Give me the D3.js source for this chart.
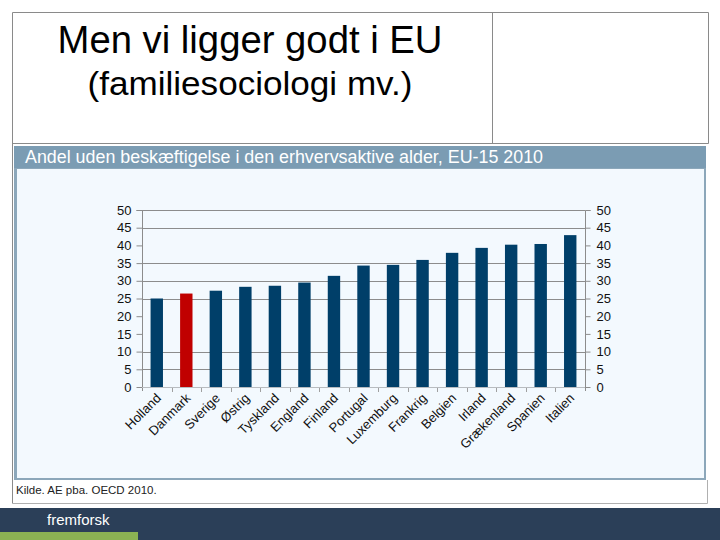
<!DOCTYPE html>
<html>
<head>
<meta charset="utf-8">
<script src="https://cdn.jsdelivr.net/npm/d3@7"></script>
<style>
html,body{margin:0;padding:0;background:#fff;}
svg{display:block;}
</style>
</head>
<body>
<svg id="c" width="720" height="540"></svg>
<script>
const categories = ["Holland","Danmark","Sverige","Østrig","Tyskland","England","Finland","Portugal","Luxemburg","Frankrig","Belgien","Irland","Grækenland","Spanien","Italien"];
const values = [25.0, 26.4, 27.2, 28.3, 28.6, 29.5, 31.4, 34.3, 34.5, 35.9, 37.9, 39.3, 40.2, 40.4, 42.9];
const highlight = ["Danmark"];
const yTicks = [0,5,10,15,20,25,30,35,40,45,50];
const gridValues = [5,10,25,30,35,45,50];
const titleLines = ["Men vi ligger godt i EU", "(familiesociologi mv.)"];
const chartHeader = "Andel uden beskæftigelse i den erhvervsaktive alder, EU-15 2010";
const sourceText = "Kilde. AE pba. OECD 2010.";
const footerText = "fremforsk";

const svg = d3.select("#c");
const font = "'Liberation Sans', Arial, sans-serif";

// top boxes
const frame = "#8a8a8a";
svg.append("path").attr("d","M12.5,503.5 V12.5 H708.5 V143.5 H12.5 M492.5,12.5 V143.5")
  .attr("fill","none").attr("stroke",frame).attr("stroke-width",1);
svg.append("path").attr("d","M12.5,503.5 H707.5 V480").attr("fill","none").attr("stroke","#b0b0b0").attr("stroke-width",1);

svg.append("text").attr("x",250).attr("y",53).attr("text-anchor","middle")
  .attr("font-family",font).attr("font-size",38).attr("fill","#000")
  .attr("textLength",385).attr("lengthAdjust","spacingAndGlyphs").text(titleLines[0]);
svg.append("text").attr("x",250).attr("y",95).attr("text-anchor","middle")
  .attr("font-family",font).attr("font-size",34).attr("fill","#000")
  .attr("textLength",325).attr("lengthAdjust","spacingAndGlyphs").text(titleLines[1]);

// chart panel
svg.append("rect").attr("x",14).attr("y",146).attr("width",692).attr("height",334).attr("fill","#8ca7ba");
svg.append("rect").attr("x",14).attr("y",146).attr("width",692).attr("height",22).attr("fill","#7b9cb3");
svg.append("rect").attr("x",17).attr("y",169).attr("width",687).attr("height",309).attr("fill","#f3f9fe");
svg.append("text").attr("x",25).attr("y",163).attr("font-family",font).attr("font-size",17.5)
  .attr("fill","#fff").attr("textLength",518).attr("lengthAdjust","spacingAndGlyphs").text(chartHeader);

// plot
const pLeft = 142, pRight = 585, pTop = 210, pBottom = 387;
const x = d3.scaleBand().domain(categories).range([pLeft,pRight]).paddingInner(0.58).paddingOuter(0.29);
const y = d3.scaleLinear().domain([0,50]).range([pBottom,pTop]);

svg.append("g").selectAll("line").data(gridValues).join("line")
  .attr("x1",pLeft).attr("x2",pRight).attr("y1",d=>Math.round(y(d))+0.5).attr("y2",d=>Math.round(y(d))+0.5)
  .attr("stroke","#8c8c8c").attr("stroke-width",1);

svg.append("g").selectAll("rect").data(categories).join("rect")
  .attr("x",d=>x(d)).attr("width",x.bandwidth())
  .attr("y",(d,i)=>y(values[i])).attr("height",(d,i)=>pBottom - y(values[i]))
  .attr("fill",d=>highlight.includes(d)?"#c00000":"#003f69");

const axL = svg.append("g").attr("transform",`translate(${pLeft+0.5},0)`)
  .call(d3.axisLeft(y).tickValues(yTicks).tickSize(6).tickPadding(5));
const axR = svg.append("g").attr("transform",`translate(${pRight+0.5},0)`)
  .call(d3.axisRight(y).tickValues(yTicks).tickSize(5).tickPadding(6));
[axL,axR].forEach(a=>{
  a.selectAll("path,line").attr("stroke","#8c8c8c");
  a.selectAll("text").attr("font-family",font).attr("font-size",13).attr("fill","#111");
});
axL.select(".domain").attr("d",`M-6,${pTop+0.5}H0V${pBottom+4}`);
axR.select(".domain").attr("d",`M5,${pTop+0.5}H0V${pBottom+4}`);

// x axis
const boundaries = categories.slice(1).map(c=>x(c) - x.step()*x.paddingInner()/2);
svg.append("line").attr("x1",pLeft).attr("x2",pRight).attr("y1",pBottom+0.5).attr("y2",pBottom+0.5).attr("stroke","#b8bcc0");
svg.append("g").selectAll("line").data(boundaries).join("line")
  .attr("x1",d=>Math.round(d)+0.5).attr("x2",d=>Math.round(d)+0.5).attr("y1",pBottom+1).attr("y2",pBottom+5)
  .attr("stroke","#a0a0a0");
svg.append("g").selectAll("text").data(categories).join("text")
  .attr("transform",d=>`translate(${x(d)+x.bandwidth()/2+5},${pBottom+12}) rotate(-45)`)
  .attr("text-anchor","end").attr("font-family",font).attr("font-size",13).attr("fill","#111")
  .text(d=>d);

// source
svg.append("text").attr("x",16).attr("y",494).attr("font-family",font).attr("font-size",11.5)
  .attr("fill","#222").text(sourceText);

// footer
svg.append("rect").attr("x",0).attr("y",508).attr("width",720).attr("height",32).attr("fill","#2b3f58");
svg.append("rect").attr("x",0).attr("y",532).attr("width",138).attr("height",8).attr("fill","#8bb253");
svg.append("text").attr("x",47).attr("y",525).attr("font-family",font).attr("font-size",15)
  .attr("fill","#fff").text(footerText);
</script>
</body>
</html>
